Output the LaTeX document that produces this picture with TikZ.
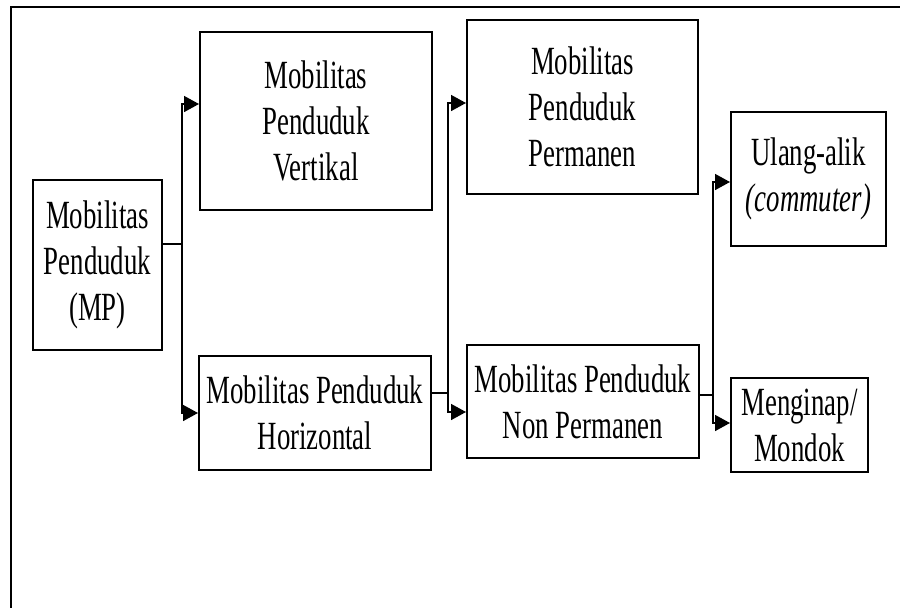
\documentclass[tikz,border=0pt]{standalone}
\usepackage{fontspec}
\usepackage{tikz}
\usetikzlibrary{arrows.meta}
\setmainfont{Liberation Serif}[FakeStretch=0.67]
\tikzstyle{mpbox} = [
    draw=black,
    line width=2pt,
    rectangle,
    align=center,
    inner sep=0pt,
    font=\fontsize{40}{46}\selectfont
    ]
\tikzstyle{link} = [
    line width=1.6pt,
    -{Triangle[length=15pt,width=16pt]}
    ]

\begin{document}
\begin{tikzpicture}[x=1pt,y=-1pt]
\useasboundingbox (0,0) rectangle (900,608);
\draw[line width=2.5pt] (11,620) |- (910,7);

% boxes
\node [mpbox, minimum width=129pt, minimum height=170pt] (mp) at (97.5,265) {Mobilitas\\Penduduk\\(MP)};
\node [mpbox, minimum width=232pt, minimum height=178pt] (vert) at (316,121) {Mobilitas\\Penduduk\\Vertikal};
\node [mpbox, minimum width=232pt, minimum height=114pt] (hori) at (315,413) {Mobilitas Penduduk\\Horizontal};
\node [mpbox, minimum width=231pt, minimum height=174pt] (perm) at (582.5,107) {Mobilitas\\Penduduk\\Permanen};
\node [mpbox, minimum width=232pt, minimum height=113pt] (nonp) at (583,401.5) {Mobilitas Penduduk\\Non Permanen};
\node [mpbox, minimum width=155pt, minimum height=134pt] (ulang) at (808.5,179) {Ulang-alik\\\textit{(commuter)}};
\node [mpbox, minimum width=137pt, minimum height=94pt] (meng) at (799.5,425) {Menginap/\\Mondok};

% junctions
\coordinate (j1) at (182,244);
\coordinate (j1a) at (182,104);
\coordinate (j1b) at (182,413);
\coordinate (j2) at (448,393);
\coordinate (j2a) at (448,103);
\coordinate (j2b) at (448,412);
\coordinate (j3) at (713,395);
\coordinate (j3a) at (713,182);
\coordinate (j3b) at (713,423);

% connectors
\draw[line width=1.6pt] (mp.east |- j1) -- (j1);
\draw[link] (j1) -- (j1a) -- (vert.west |- j1a);
\draw[link] (j1) -- (j1b) -- (hori.west |- j1b);

\draw[line width=1.6pt] (hori.east |- j2) -- (j2);
\draw[link] (j2) -- (j2a) -- (perm.west |- j2a);
\draw[link] (j2) -- (j2b) -- (nonp.west |- j2b);

\draw[line width=1.6pt] (nonp.east |- j3) -- (j3);
\draw[link] (j3) -- (j3a) -- (ulang.west |- j3a);
\draw[link] (j3) -- (j3b) -- (meng.west |- j3b);
\end{tikzpicture}
\end{document}
